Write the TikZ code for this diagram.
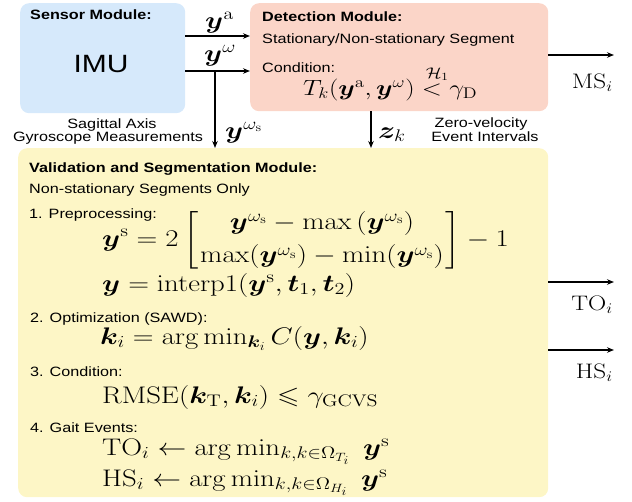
\RequirePackage{fix-cm}
\documentclass[tikz,border=0pt]{standalone}
\usepackage{amsmath,amssymb,bm}
\usepackage[no-math]{fontspec}
\setmainfont{Liberation Sans}
\usetikzlibrary{arrows.meta}
\definecolor{sensorc}{HTML}{D6E9FB}
\definecolor{detc}{HTML}{FBD5C8}
\definecolor{valc}{HTML}{FDF6C6}
\begin{document}
\begin{tikzpicture}[x=1pt,y=-1pt,
  tx/.style={inner sep=0pt, xscale=1.2, anchor=base west, font=\fontsize{13.5}{16}\selectfont},
  hd/.style={tx, font=\fontsize{13.5}{16}\selectfont\bfseries},
  mth/.style={tx, font=\fontsize{24}{28}\selectfont},
  mthd/.style={tx, font=\fontsize{22}{26}\selectfont},
  mlab/.style={tx, font=\fontsize{24}{28}\selectfont},
  lbl/.style={tx, font=\fontsize{21}{25}\selectfont},
  arr/.style={-{Stealth[length=7pt,width=5.5pt]}, line width=1.1pt},
  box/.style={rectangle, rounded corners=9pt, draw=none, inner sep=0pt, anchor=north west}]
\useasboundingbox (0,0) rectangle (632,501);
% boxes
\node[box, fill=sensorc, minimum width=165pt, minimum height=110pt] (sensor) at (20,3) {};
\node[box, fill=detc, minimum width=298pt, minimum height=108pt] (det) at (250,3) {};
\node[box, fill=valc, minimum width=530pt, minimum height=349pt] (val) at (18,148) {};
% sensor text
\node[hd] (sensT) at (30,19) {Sensor Module:};
\node[tx, anchor=base, font=\fontsize{25}{30}\selectfont] (imu) at (101,72) {IMU};
% detection text
\node[hd] (detT) at (262,21) {Detection Module:};
\node[tx] (detS) at (262,43) {Stationary/Non-stationary Segment};
\node[tx] (detC) at (262,72) {Condition:};
\node[mthd] (detM) at (303,95) {$T_k(\bm{y}^{\mathrm{a}},\bm{y}^{\omega})\mathrel{\overset{\makebox[0pt]{\hspace{0.4em}$\scriptstyle\mathcal{H}_1$}}{<}}\gamma_{\mathrm{D}}$};
% validation text
\node[hd] (valT) at (29,172) {Validation and Segmentation Module:};
\node[tx] (valN) at (29,193) {Non-stationary Segments Only};
\node[tx] (s1) at (29,218) {1. Preprocessing:};
\node[mth] (m1) at (102,246) {$\displaystyle \bm{y}^{\mathrm{s}}=2\left[\genfrac{}{}{0pt}{0}{\bm{y}^{\omega_{\mathrm{s}}}-\max\,(\bm{y}^{\omega_{\mathrm{s}}})}{\max(\bm{y}^{\omega_{\mathrm{s}}})-\min(\bm{y}^{\omega_{\mathrm{s}}})}\right]-1$};
\node[mth] (m2) at (102,291) {$\bm{y}=\mathrm{interp1}(\bm{y}^{\mathrm{s}},\bm{t}_1,\bm{t}_2)$};
\node[tx] (s2) at (30,322) {2. Optimization (SAWD):};
\node[mth] (m3) at (100,344) {$\bm{k}_i=\arg\min_{\bm{k}_i}C(\bm{y},\bm{k}_i)$};
\node[tx] (s3) at (30,376) {3. Condition:};
\node[mth] (m4) at (102,403) {$\mathrm{RMSE}(\bm{k}_{\mathrm{T}},\bm{k}_i)\leqslant\gamma_{\mathrm{GCVS}}$};
\node[tx] (s4) at (30,432) {4. Gait Events:};
\node[mth] (m5) at (102,455) {$\mathrm{TO}_i\leftarrow\arg\min_{k,k\in\Omega_{T_i}}\;\bm{y}^{\mathrm{s}}$};
\node[mth] (m6) at (102,486) {$\mathrm{HS}_i\leftarrow\arg\min_{k,k\in\Omega_{H_i}}\;\bm{y}^{\mathrm{s}}$};
% connector labels
\node[mlab] (lya) at (205,28) {$\bm{y}^{\mathrm{a}}$};
\node[mlab] (lyw) at (204,61) {$\bm{y}^{\omega}$};
\node[mlab] (lyws) at (225,138) {$\bm{y}^{\omega_{\mathrm{s}}}$};
\node[mlab] (lzk) at (378,138) {$\bm{z}_k$};
\node[tx, anchor=base] (sag1) at (112,128) {Sagittal Axis};
\node[tx, anchor=base] (sag2) at (108,141) {Gyroscope Measurements};
\node[tx, anchor=base] (zv1) at (481,127) {Zero-velocity};
\node[tx, anchor=base] (zv2) at (485,141) {Event Intervals};
\node[lbl, anchor=base east] (lms) at (613,88) {$\mathrm{MS}_i$};
\node[lbl, anchor=base east] (lto) at (613,310) {$\mathrm{TO}_i$};
\node[lbl, anchor=base east] (lhs) at (613,378) {$\mathrm{HS}_i$};
% connectors
\coordinate (ya) at (0,36);
\coordinate (yw) at (0,71);
\coordinate (br) at (215,71);
\coordinate (zx) at (371,0);
\coordinate (msend) at (614,55);
\coordinate (toend) at (614,282);
\coordinate (hsend) at (614,350);
\draw[arr] (sensor.east |- ya) -- (det.west |- ya);
\draw[arr] (sensor.east |- yw) -- (det.west |- yw);
\draw[arr] (br) -- (br |- val.north);
\draw[arr] (zx |- det.south) -- (zx |- val.north);
\draw[arr] (det.east |- msend) -- (msend);
\draw[arr] (val.east |- toend) -- (toend);
\draw[arr] (val.east |- hsend) -- (hsend);
\end{tikzpicture}
\end{document}
